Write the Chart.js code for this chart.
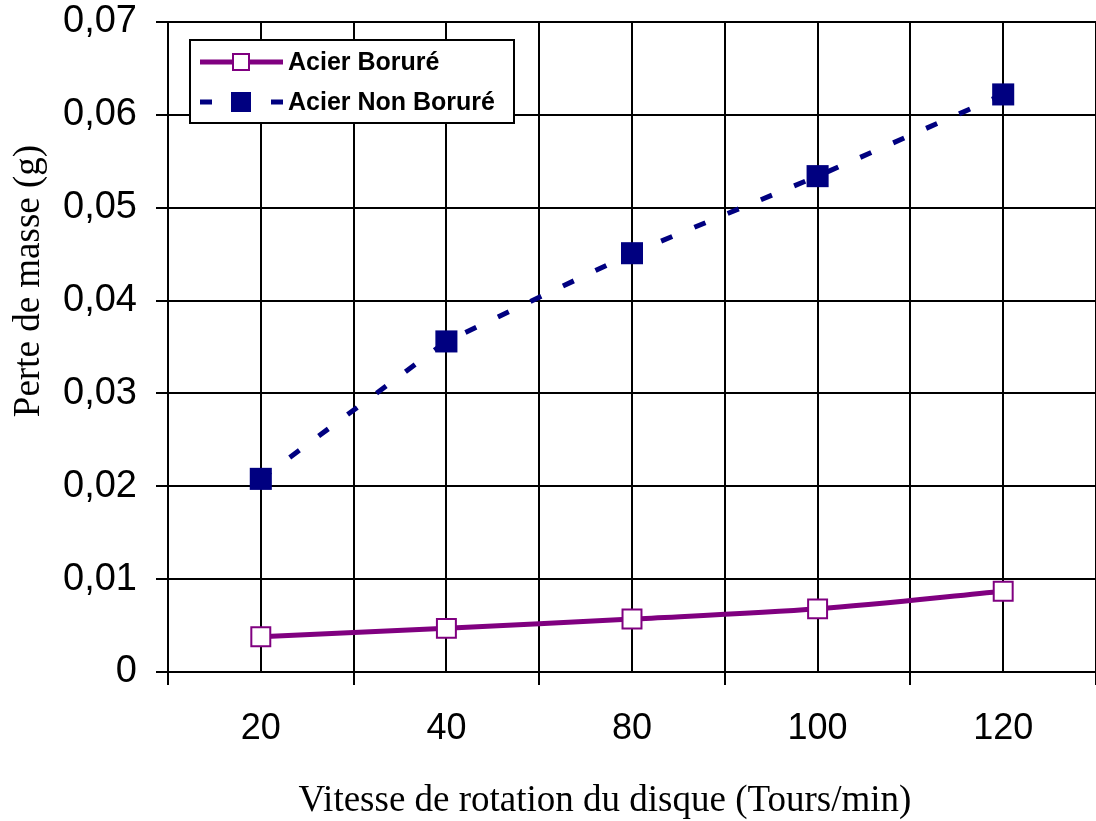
<!DOCTYPE html>
<html>
<head>
<meta charset="utf-8">
<script src="https://cdn.jsdelivr.net/npm/chart.js@4.4.1/dist/chart.umd.min.js"></script>
<style>
html,body{margin:0;padding:0;background:#fff;}
#wrap{width:1096px;height:821px;position:relative;}
</style>
</head>
<body>
<div id="wrap"><canvas id="c" width="1096" height="821"></canvas></div>
<script>
// ---- data ----
const categories = ['20', '40', '80', '100', '120'];
const acierBorure = [0.0038, 0.0047, 0.0057, 0.0068, 0.0087];
const acierNonBorure = [0.0208, 0.0356, 0.0451, 0.0534, 0.0622];
const seriesNames = ['Acier Boruré', 'Acier Non Boruré'];
const yMin = 0, yMax = 0.07, yStep = 0.01;
const xTitle = 'Vitesse de rotation du disque (Tours/min)';
const yTitle = 'Perte de masse (g)';

const PURPLE = '#800080';
const NAVY = '#000080';

const titlesPlugin = {
  id: 'titles',
  afterDraw(chart) {
    const ctx = chart.ctx;
    ctx.save();
    ctx.fillStyle = '#000';
    ctx.font = '37px "Liberation Serif", "Times New Roman", serif';
    ctx.textAlign = 'center';
    ctx.textBaseline = 'middle';
    ctx.fillText(xTitle, 605, 801);
    ctx.translate(29, 281);
    ctx.rotate(-Math.PI / 2);
    ctx.fillText(yTitle, 0, 0);
    ctx.restore();
  }
};

const legendPlugin = {
  id: 'boxLegend',
  afterDraw(chart) {
    const ctx = chart.ctx;
    const ds = chart.data.datasets;
    ctx.save();
    ctx.fillStyle = '#fff';
    ctx.fillRect(190, 40, 324, 83);
    ctx.strokeStyle = '#000';
    ctx.lineWidth = 2;
    ctx.strokeRect(190, 40, 324, 83);
    const rows = [62, 102];
    ds.forEach((d, i) => {
      const y = rows[i];
      ctx.strokeStyle = d.borderColor;
      ctx.lineWidth = 5;
      ctx.setLineDash(d.borderDash && d.borderDash.length ? [12, 59] : []);
      ctx.beginPath();
      ctx.moveTo(200, y);
      ctx.lineTo(283, y);
      ctx.stroke();
      ctx.setLineDash([]);
      const s = i === 0 ? 16 : 18;
      ctx.fillStyle = d.pointBackgroundColor;
      ctx.fillRect(241 - s / 2, y - s / 2, s, s);
      ctx.lineWidth = 2;
      ctx.strokeStyle = d.pointBorderColor;
      ctx.strokeRect(241 - s / 2, y - s / 2, s, s);
      ctx.fillStyle = '#000';
      ctx.font = 'bold 25px "Liberation Sans", Arial, sans-serif';
      ctx.textAlign = 'left';
      ctx.textBaseline = 'middle';
      ctx.fillText(d.label, 288, y + 1);
    });
    ctx.restore();
  }
};

new Chart(document.getElementById('c'), {
  type: 'line',
  data: {
    labels: categories,
    datasets: [
      {
        label: seriesNames[0],
        data: acierBorure,
        borderColor: PURPLE,
        borderWidth: 5,
        tension: 0.3,
        pointStyle: 'rect',
        pointRadius: 13.4,
        pointBorderWidth: 2,
        pointBackgroundColor: '#fff',
        pointBorderColor: PURPLE,
        fill: false
      },
      {
        label: seriesNames[1],
        data: acierNonBorure,
        borderColor: NAVY,
        borderWidth: 5,
        borderDash: [12, 24],
        tension: 0,
        pointStyle: 'rect',
        pointRadius: 15.6,
        pointBorderWidth: 0,
        pointBackgroundColor: NAVY,
        pointBorderColor: NAVY,
        fill: false
      }
    ]
  },
  options: {
    responsive: false,
    animation: false,
    clip: false,
    layout: { autoPadding: false, padding: { top: 22, right: -4, left: 0, bottom: 0 } },
    plugins: { legend: { display: false }, tooltip: { enabled: false }, title: { display: false } },
    scales: {
      x: {
        type: 'category',
        offset: true,
        grid: { offset: true, color: '#000', lineWidth: 2, drawTicks: true, tickLength: 13, tickColor: '#000', tickWidth: 2 },
        border: { display: true, color: '#000', width: 2 },
        ticks: { color: '#000', padding: 22, font: { family: '"Liberation Sans", Arial, sans-serif', size: 36 }, maxRotation: 0, autoSkip: false },
        afterFit(s) { s.height = 149; }
      },
      x2: {
        type: 'category',
        position: 'top',
        labels: categories,
        offset: true,
        grid: { offset: false, color: '#000', lineWidth: 2, drawTicks: false },
        border: { display: false },
        ticks: { display: false },
        afterFit(s) { s.height = 0; }
      },
      y: {
        min: yMin,
        max: yMax,
        grid: { color: '#000', lineWidth: 2, drawTicks: true, tickLength: 12, tickColor: '#000', tickWidth: 2 },
        border: { display: true, color: '#000', width: 2 },
        ticks: {
          stepSize: yStep,
          color: '#000',
          padding: 19,
          font: { family: '"Liberation Sans", Arial, sans-serif', size: 38, lineHeight: 0.05 },
          callback: v => {
            const r = Math.round(v * 100) / 100;
            return r === 0 ? '0' : r.toFixed(2).replace('.', ',');
          }
        },
        afterFit(s) { s.width = 168; }
      }
    }
  },
  plugins: [titlesPlugin, legendPlugin]
});
</script>
</body>
</html>
